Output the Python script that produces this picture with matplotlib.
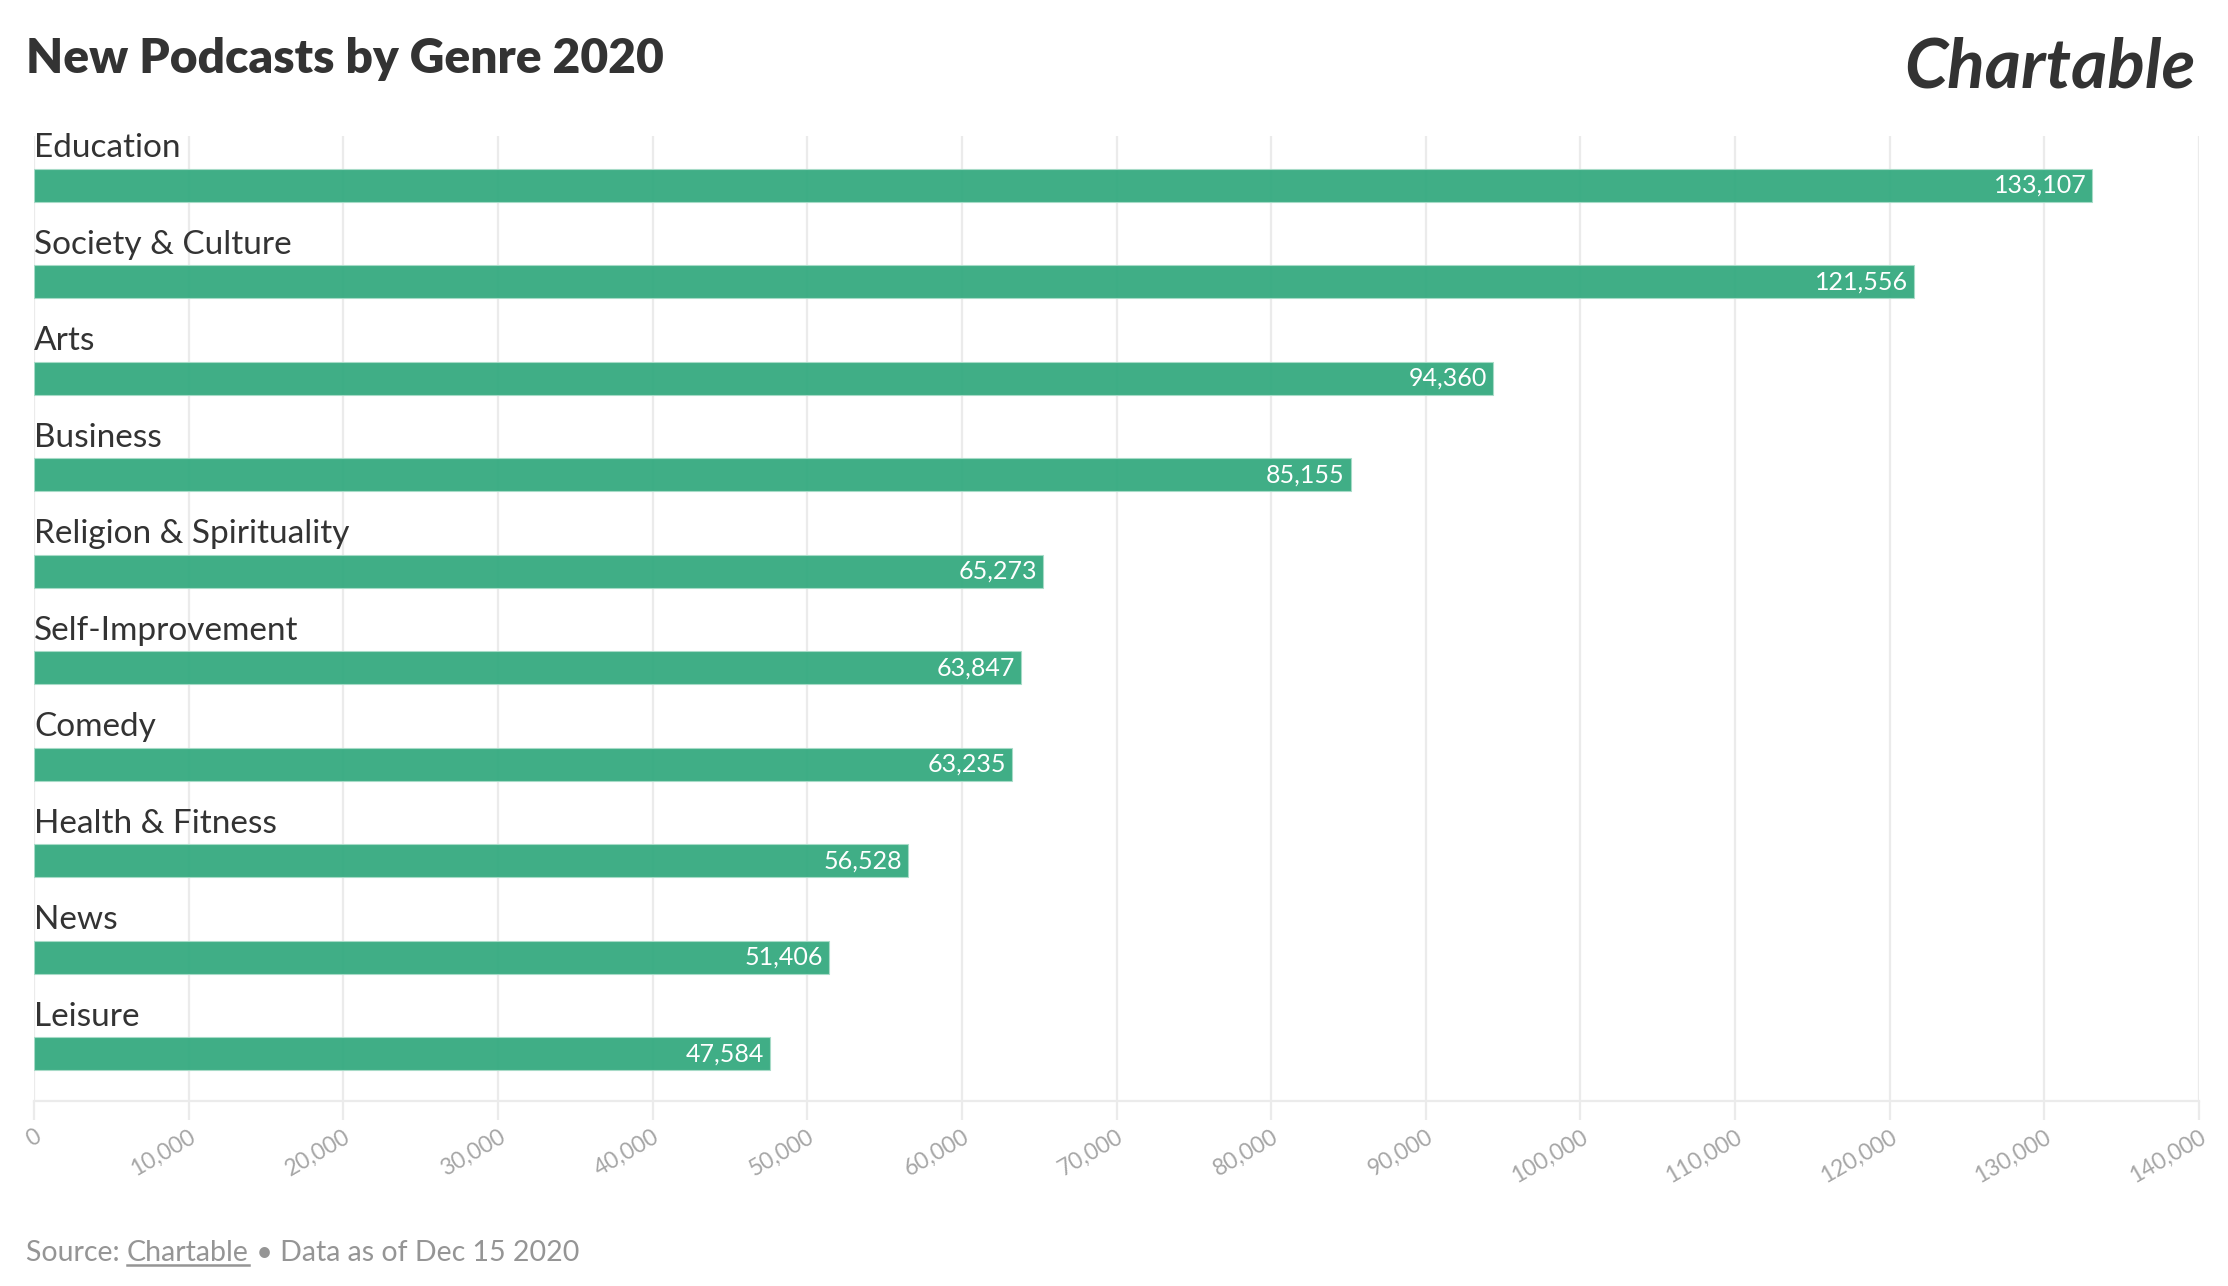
import matplotlib
matplotlib.use("Agg")
import matplotlib.pyplot as plt

categories = ["Education", "Society & Culture", "Arts", "Business", "Religion & Spirituality",
              "Self-Improvement", "Comedy", "Health & Fitness", "News", "Leisure"]
values = [133107, 121556, 94360, 85155, 65273, 63847, 63235, 56528, 51406, 47584]
xticks = list(range(0, 140001, 10000))
xtick_labels = [f"{t:,}" for t in xticks]

FONT = "Lato"
W, H = 2228, 1286
fig = plt.figure(figsize=(W / 100, H / 100), dpi=100)
fig.patch.set_facecolor("white")

left, right = 34 / W, 2199 / W
top, bottom = 1 - 136 / H, 1 - 1101 / H
ax = fig.add_axes([left, bottom, right - left, top - bottom])

ypos = list(range(len(categories)))
ax.barh(ypos, values, height=0.345, color="#35aa80", alpha=0.95,
        edgecolor="#a8dcc8", linewidth=0.8, zorder=2)

ax.set_xlim(0, 140000)
ax.set_ylim(9.49, -0.51)

for s in ["top", "right", "left"]:
    ax.spines[s].set_visible(False)
ax.spines["bottom"].set_color("#ebebeb")
ax.spines["bottom"].set_linewidth(1.6)
ax.set_yticks([])
ax.set_xticks(xticks)
ax.set_xticklabels(xtick_labels, rotation=30, ha="right", va="top",
                   rotation_mode="anchor", fontsize=16.5, color="#a6a6a6",
                   family=FONT)
ax.tick_params(axis="x", length=14, width=1.6, color="#ebebeb", pad=4)
ax.grid(axis="x", color="#ebebeb", linewidth=1.6, zorder=0)
ax.set_axisbelow(True)

for i, (c, v) in enumerate(zip(categories, values)):
    ax.text(0, i - 0.385, c, ha="left", va="center", fontsize=24,
            color="#333333", family=FONT, zorder=3)
    ax.annotate(f"{v:,}", xy=(v, i), xytext=(-6, 0), textcoords="offset pixels",
                ha="right", va="center", fontsize=18, color="white",
                family=FONT, zorder=3)

fig.text(26 / W, 1 - 73 / H, "New Podcasts by Genre 2020", ha="left",
         va="baseline", fontsize=34.5, fontweight="heavy", color="#333333",
         family=FONT)

fig.text(2196 / W, 1 - 88 / H, "Chartable", ha="right", va="baseline",
         fontsize=50, fontweight="bold", fontstyle="italic", color="#333333",
         family=FONT)

# footer
fig.canvas.draw()
renderer = fig.canvas.get_renderer()
fy = 1 - 1261 / H
fs = 20.5
t1 = fig.text(26 / W, fy, "Source: ", ha="left", va="baseline", fontsize=fs,
              color="#959595", family=FONT)
bb1 = t1.get_window_extent(renderer)
t2 = fig.text(bb1.x1 / W, fy, "Chartable", ha="left", va="baseline",
              fontsize=fs, color="#959595", family=FONT)
bb2 = t2.get_window_extent(renderer)
t3 = fig.text(bb2.x1 / W, fy, " \u2022 Data as of Dec 15 2020", ha="left",
              va="baseline", fontsize=fs, color="#959595", family=FONT)
uy = fy - 4 / H
fig.add_artist(plt.Line2D([bb2.x0 / W, bb2.x1 / W], [uy, uy],
                          transform=fig.transFigure, color="#959595",
                          linewidth=1.8))

fig.savefig("out.png", dpi=100, facecolor="white")
